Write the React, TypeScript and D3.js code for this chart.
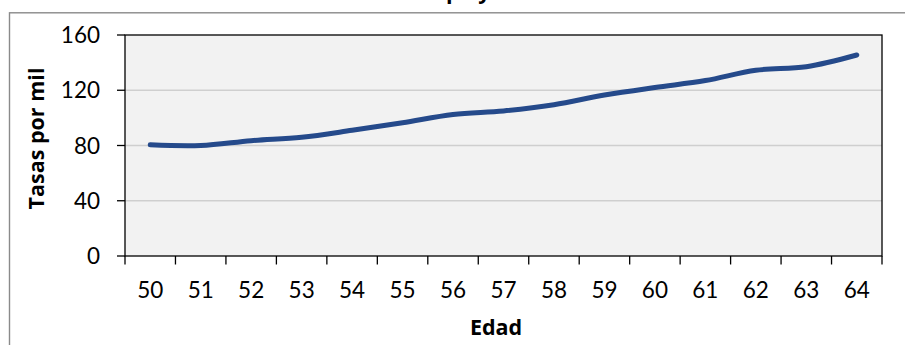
import React from "react";
import * as d3 from "d3";

const ages: string[] = ["50","51","52","53","54","55","56","57","58","59","60","61","62","63","64"];
const rates: number[] = [80.5, 80, 83.5, 86, 91, 96.5, 102.5, 105, 109.5, 116.5, 122, 127, 134.5, 137, 145.5];
const yTicks: number[] = [0, 40, 80, 120, 160];
const titleLeft = "Tasas de mortalidad en Euro";
const titleRight = "pa y América";
const yTitle = "Tasas por mil";
const xTitle = "Edad";

const W = 905, H = 345;
const M = { left: 125, right: 882, top: 35, bottom: 256 };
const FONT = "Lato, 'Open Sans', sans-serif";
const TITLE_FONT = "'Open Sans', Lato, sans-serif";

export default function App() {
  const x = d3.scaleBand<string>().domain(ages).range([M.left, M.right]).padding(0);
  const y = d3.scaleLinear().domain([0, 160]).range([M.bottom, M.top]);
  const line = d3
    .line<number>()
    .x((_, i) => (x(ages[i]) as number) + x.bandwidth() / 2)
    .y((d) => y(d))
    .curve(d3.curveCatmullRom.alpha(0.5));
  const bounds = ages.map((a) => x(a) as number).concat([M.right]);

  return (
    <svg
      width={W}
      height={H}
      style={{ position: "absolute", left: 0, top: 0, overflow: "hidden", background: "#fff" }}
      fontFamily={FONT}
    >
      <rect x={0} y={0} width={W} height={H} fill="#ffffff" />
      {/* title (mostly outside the picture, as in the reference) */}
      <text y={-1} fontSize={21.5} fontWeight="bold" fill="#000" fontFamily={TITLE_FONT}>
        <tspan x={446} textAnchor="end">{titleLeft}</tspan>
        <tspan x={446} textAnchor="start">{titleRight}</tspan>
      </text>
      {/* outer chart border */}
      <rect x={9.5} y={12.8} width={1000} height={1000} fill="none" stroke="#8a8a8a" strokeWidth={1.4} />
      {/* plot area */}
      <rect x={M.left} y={M.top} width={M.right - M.left} height={M.bottom - M.top} fill="#f2f2f2" />
      {yTicks.filter((t) => t > 0 && t < 160).map((t) => (
        <line key={t} x1={M.left} x2={M.right} y1={y(t)} y2={y(t)} stroke="#cfcfcf" strokeWidth={1.5} />
      ))}
      <rect x={M.left} y={M.top} width={M.right - M.left} height={M.bottom - M.top} fill="none" stroke="#000" strokeWidth={1.3} />
      {/* y ticks & labels */}
      {yTicks.map((t) => (
        <g key={t}>
          <line x1={117} x2={M.left} y1={y(t)} y2={y(t)} stroke="#000" strokeWidth={1.3} />
          <text x={100} y={y(t) + 8} textAnchor="end" fontSize={22.5} fill="#000">{t}</text>
        </g>
      ))}
      {/* x ticks & labels */}
      {bounds.map((b, i) => (
        <line key={i} x1={b} x2={b} y1={M.bottom} y2={M.bottom + 8.5} stroke="#000" strokeWidth={1.3} />
      ))}
      {ages.map((a) => (
        <text key={a} x={(x(a) as number) + x.bandwidth() / 2} y={298} textAnchor="middle" fontSize={22.5} fill="#000">{a}</text>
      ))}
      {/* line */}
      <path d={line(rates) || ""} fill="none" stroke="#254a8b" strokeWidth={5} strokeLinecap="round" strokeLinejoin="round" />
      {/* axis titles */}
      <text x={496} y={335} textAnchor="middle" fontSize={21.5} fontWeight="bold" fill="#000" fontFamily={TITLE_FONT}>{xTitle}</text>
      <text transform="translate(44,138.5) rotate(-90)" textAnchor="middle" fontSize={21.5} fontWeight="bold" fill="#000" fontFamily={TITLE_FONT}>{yTitle}</text>
    </svg>
  );
}
